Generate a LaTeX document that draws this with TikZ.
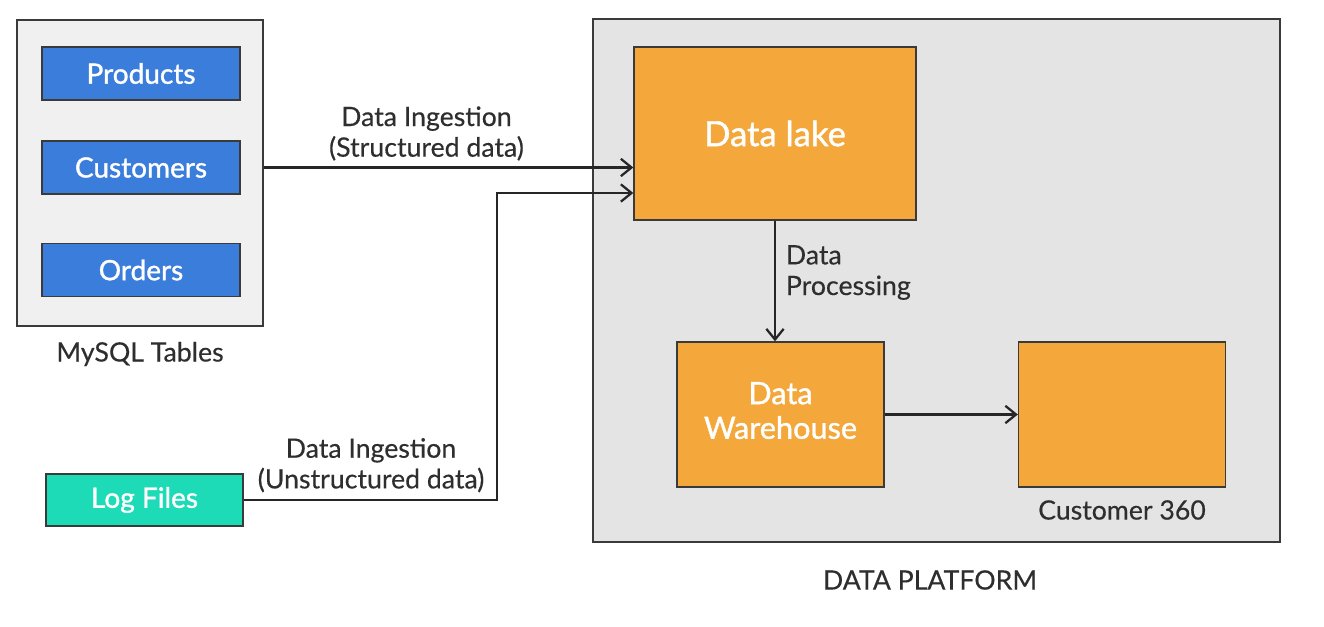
\documentclass[tikz,border=0pt]{standalone}
\usepackage{fontspec}
\setmainfont{Lato}[FakeBold=0.35]
\newfontfamily\boxfont{Lato}[FakeBold=1.2]
\usetikzlibrary{arrows.meta}
\definecolor{tableblue}{HTML}{3B7DDB}
\definecolor{logteal}{HTML}{1DDBB6}
\definecolor{lakeorange}{HTML}{F4A83C}
\definecolor{panelgray}{HTML}{E4E4E4}
\definecolor{groupgray}{HTML}{F0F0F0}
\definecolor{edgegray}{HTML}{3A3A3A}
\definecolor{textgray}{HTML}{2E2E2E}

\begin{document}
\begin{tikzpicture}[x=0.75pt, y=-0.75pt, >={Straight Barb[length=8pt,width=13pt]},
  every box/.style={draw=edgegray, line width=1pt, text=white, inner sep=0pt},
  table box/.style={every box, fill=tableblue, minimum width=148.5pt, minimum height=39.75pt, font=\boxfont\fontsize{21}{24}\selectfont},
  store box/.style={every box, fill=lakeorange, align=center, font=\boxfont\fontsize{23}{26}\selectfont},
  flow label/.style={text=textgray, align=center, font=\fontsize{20}{23}\selectfont},
  flow/.style={->, draw=black!85, line width=1.7pt}]

\useasboundingbox (0,0) rectangle (1324,627);

% groups
\node [draw=edgegray, line width=1.3pt, fill=groupgray, minimum width=184.5pt, minimum height=229.5pt] (mysql) at (140,173) {};
\node [draw=edgegray, line width=1.3pt, fill=panelgray, minimum width=515.25pt, minimum height=392.25pt] (platform) at (936.5,280.5) {};

\foreach \t/\y in {Products/73.5, Customers/167.5, Orders/270}
  \node [table box] (\t) at (141,\y) {\t};

\node [table box, fill=logteal, minimum width=147.75pt, minimum height=39pt] (logs) at (144.5,500) {Log Files};

\node [store box, minimum width=211.5pt, minimum height=129.75pt, font=\boxfont\fontsize{26}{30}\selectfont] (lake) at (775,133.5) {Data lake};
\node [store box, minimum width=155.25pt, minimum height=108.75pt] (dwh) at (780.5,414.5) {\raisebox{3pt}{\begin{tabular}{@{}c@{}}Data\\Warehouse\end{tabular}}};
\node [store box, minimum width=155.25pt, minimum height=108.75pt] (c360) at (1122,414.5) {};

% labels
\node [flow label] (mysql-label) at (140,354) {MySQL Tables};
\node [flow label] (c360-label) at (1122,510) {Customer 360};
\node [flow label] (platform-label) at (930,580) {DATA PLATFORM};

% connectors
\coordinate (bend) at (497,193);
\draw [flow] (mysql.east |- Customers) -- (lake.west |- Customers)
  node [flow label, pos=0.44, above=1pt] {Data Ingestion\\(Structured data)};
\draw [flow] (logs.east) -| (bend) -- (lake.west |- bend);
\node [flow label, anchor=south east] (logs-label) at (489,497) {Data Ingestion\\(Unstructured data)};
\draw [flow] (lake.south) -- (lake.south |- dwh.north)
  node [flow label, align=left, anchor=west, pos=0.43, xshift=4pt] {Data\\Processing};
\draw [flow] (dwh.east) -- (c360.west);

\end{tikzpicture}
\end{document}
